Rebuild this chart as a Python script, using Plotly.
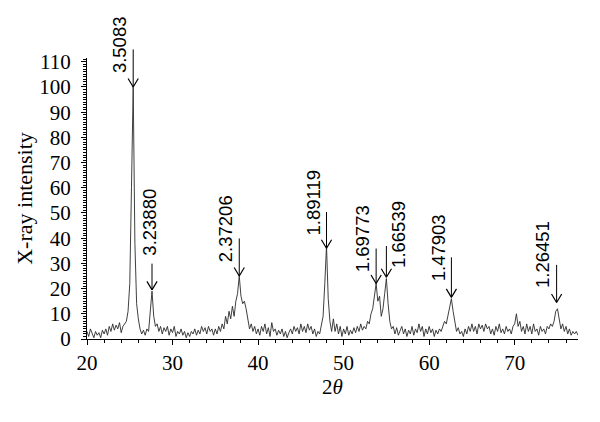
import numpy as np
import plotly.graph_objects as go

# ---- data (XRD pattern) ----
theta_start = 20.0
theta_step = 0.2
intensity = [
    3, 1, 4, 2, 0.5, 3, 1.5, 2.5, 0.5, 3.5,          # 20.0 - 21.8
    2, 4, 1.5, 5, 3, 6, 3.5, 5.5, 4, 6.5,            # 22.0 - 23.8
    2.5, 5, 6, 7, 11, 22, 60, 100, 38, 14,           # 24.0 - 25.8
    8, 4, 2, 3.5, 1.5, 4, 3, 10, 19, 9,              # 26.0 - 27.8
    5, 6, 3, 5, 2, 4.5, 3, 5, 1.5, 4,                # 28.0 - 29.8
    2.5, 5, 1, 3, 2, 4, 1.5, 3, 0.5, 2.5,            # 30.0 - 31.8
    1, 3, 2, 4, 1.5, 3.5, 2, 5, 3, 4.5,              # 32.0 - 33.8
    2, 5, 3, 4, 1.5, 4, 2, 5, 3, 6,                  # 34.0 - 35.8
    4, 9, 6, 11, 8, 13, 9, 15, 18, 25,               # 36.0 - 37.8
    17, 14, 15, 12, 8, 4, 6, 3, 5, 2,                # 38.0 - 39.8
    4, 1.5, 5, 3, 6, 2, 4.5, 1, 6.5, 3,              # 40.0 - 41.8
    4, 1.5, 3.5, 2, 4, 1, 3, 0.5, 2.5, 4,            # 42.0 - 43.8
    2, 5, 3, 4.5, 2, 6, 3, 5, 2.5, 6,                # 44.0 - 45.8
    3.5, 5, 2, 4, 1, 3, 2, 5, 9, 22,                 # 46.0 - 47.8
    37, 16, 7, 3, 8, 3, 6, 2, 5, 1,                  # 48.0 - 49.8
    4, 2, 5, 1.5, 3.5, 2, 4.5, 2.5, 5, 3,            # 50.0 - 51.8
    6, 3.5, 5, 4, 7, 6, 10, 12, 17, 22,              # 52.0 - 53.8
    15, 17, 9, 12, 18, 24, 14, 7, 4, 5,              # 54.0 - 55.8
    2, 4.5, 1.5, 3, 5, 2, 4, 1, 3.5, 2,              # 56.0 - 57.8
    5, 1.5, 4, 2.5, 6, 3, 5, 1, 4, 2,                # 58.0 - 59.8
    5, 2.5, 4, 1, 3.5, 2, 4, 3, 5, 7,                # 60.0 - 61.8
    6, 9, 13, 16, 11, 6, 3, 4.5, 2, 3,               # 62.0 - 63.8
    1, 4, 2, 5, 3, 6, 3, 5, 2, 6,                    # 64.0 - 65.8
    4, 5.5, 3, 6, 4, 5, 2, 4, 1.5, 5,                # 66.0 - 67.8
    3, 6, 2.5, 4, 2, 5, 3, 4, 2, 5,                  # 68.0 - 69.8
    6, 10, 5, 7, 3, 5, 2, 6, 3, 5,                   # 70.0 - 71.8
    2, 6, 3, 4, 1.5, 5, 3, 4, 2, 5,                  # 72.0 - 73.8
    4, 6, 5, 7, 11, 12, 7, 4, 6, 3,                  # 74.0 - 75.8
    5, 2, 4, 1.5, 3, 2, 3, 1.5,                      # 76.0 - 77.4
]
two_theta = np.round(theta_start + theta_step * np.arange(len(intensity)), 2)

# peak annotations (d-spacings)
d_labels = ["3.5083", "3.23880", "2.37206", "1.89119", "1.69773", "1.66539", "1.47903", "1.26451"]
peak_2theta = [25.4, 27.6, 37.8, 48.0, 53.8, 55.0, 62.6, 74.9]
arrow_tip = [100, 19.5, 25, 36, 22, 24.5, 16.5, 14.5]
arrow_top = [115.5, 30.5, 40.5, 51, 36.5, 37.5, 33, 30]
label_side = ["left", "above", "left", "left", "left", "right", "left", "left"]

x_ticks = [20, 30, 40, 50, 60, 70]
y_ticks = list(range(0, 111, 10))

X_RANGE = [20, 77.4]
Y_RANGE = [0, 111.5]

SERIF = "Liberation Serif"
SANS = "Liberation Sans"

fig = go.Figure()
fig.add_trace(go.Scatter(x=two_theta, y=intensity, mode="lines",
                         line=dict(color="#2a2a2a", width=0.9),
                         hoverinfo="skip", showlegend=False))

annotations = []
for xp, tip, top, lab, side in zip(peak_2theta, arrow_tip, arrow_top, d_labels, label_side):
    # shaft
    annotations.append(dict(
        x=xp, y=tip, xref="x", yref="y",
        ax=xp, ay=top, axref="x", ayref="y",
        text="", showarrow=True, arrowhead=0, arrowwidth=1,
        arrowcolor="black", standoff=0, startstandoff=0,
    ))
    # open V head: two thin arms from the tip
    for dx in (-6, 6):
        annotations.append(dict(
            x=xp, y=tip, xref="x", yref="y",
            ax=dx, ay=-10,
            text="", showarrow=True, arrowhead=0, arrowwidth=1.2,
            arrowcolor="black", standoff=0, startstandoff=0,
        ))
    top_frac = (top - Y_RANGE[0]) / (Y_RANGE[1] - Y_RANGE[0])
    if side == "left":
        xa, xs, ys = "right", -1, -27
    elif side == "right":
        xa, xs, ys = "left", 0, -25
    else:
        xa, xs, ys = "center", -2, 4
    annotations.append(dict(
        x=xp, y=top_frac, xref="x", yref="paper",
        text=lab, showarrow=False, textangle=-90,
        xanchor=xa, yanchor="bottom", xshift=xs, yshift=ys,
        font=dict(family=SANS, size=18.5, color="black"),
    ))

# the page body adds an 8px offset, so the figure is sized to compensate
fig.update_layout(
    template="none",
    width=592, height=414,
    margin=dict(l=79, r=22, t=50, b=83),
    paper_bgcolor="white", plot_bgcolor="white",
    annotations=annotations,
    showlegend=False,
)
fig.update_xaxes(
    automargin=False,
    range=X_RANGE, tickmode="array", tickvals=x_ticks, ticktext=[str(v) for v in x_ticks],
    ticks="outside", ticklen=5, tickwidth=1, tickcolor="black",
    minor=dict(dtick=2, tick0=20, ticks="outside", ticklen=3, tickcolor="black", tickwidth=1),
    showline=True, linecolor="black", linewidth=1, showgrid=False, zeroline=False,
    tickfont=dict(family=SERIF, size=21, color="black"),
    title=dict(text="2<i>θ</i>", font=dict(family=SERIF, size=21, color="black"), standoff=5),
)
fig.update_yaxes(
    automargin=False,
    range=Y_RANGE, tickmode="array", tickvals=y_ticks, ticktext=[str(v) for v in y_ticks],
    ticks="outside", ticklen=5, tickwidth=1, tickcolor="black",
    minor=dict(dtick=1, tick0=0, ticks="outside", ticklen=3, tickcolor="black", tickwidth=1),
    showline=True, linecolor="black", linewidth=1, showgrid=False, zeroline=False,
    tickfont=dict(family=SERIF, size=21, color="black"),
    ticklabelstandoff=6,
    title=dict(text="X-ray intensity", font=dict(family=SERIF, size=22, color="black"), standoff=0),
)

fig.write_html("out.html")
